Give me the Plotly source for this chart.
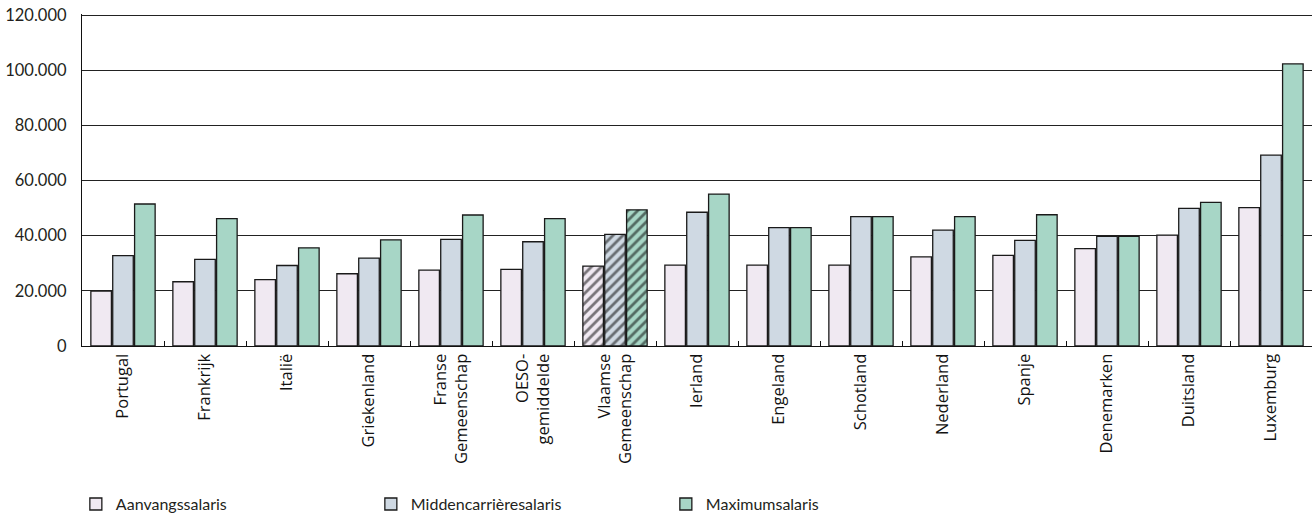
import plotly.graph_objects as go

categories = ["Portugal", "Frankrijk", "Italië", "Griekenland", "Franse<br>Gemeenschap",
              "OESO-<br>gemiddelde", "Vlaamse<br>Gemeenschap", "Ierland", "Engeland",
              "Schotland", "Nederland", "Spanje", "Denemarken", "Duitsland", "Luxemburg"]

aanvang = [19900, 23300, 24100, 26200, 27500, 27800, 29000, 29300, 29300, 29300,
           32300, 32900, 35300, 40200, 50200]
midden = [32800, 31400, 29200, 31900, 38700, 37800, 40500, 48500, 42900, 46900,
          42000, 38300, 39800, 49900, 69200]
maximum = [51500, 46200, 35600, 38500, 47500, 46200, 49400, 55100, 42900, 46900,
           46900, 47600, 39800, 52100, 102300]

series_names = ["Aanvangssalaris", "Middencarrièresalaris", "Maximumsalaris"]
colors = ["#F0E9F2", "#CFD9E3", "#A7D6C6"]
hatched_category = "Vlaamse<br>Gemeenschap"

y_ticks = [0, 20000, 40000, 60000, 80000, 100000, 120000]
y_ticktext = ["0", "20.000", "40.000", "60.000", "80.000", "100.000", "120.000"]

fig = go.Figure()
shapes = ["/" if c == hatched_category else "" for c in categories]
for name, vals, col in zip(series_names, [aanvang, midden, maximum], colors):
    fig.add_trace(go.Bar(
        x=categories, y=vals, name=name,
        marker=dict(color=col, line=dict(color="#1a1a1a", width=1.3),
                    pattern=dict(shape=shapes, fgcolor="#000000", bgcolor=col,
                                 size=7, solidity=0.4, fillmode="overlay")),
    ))

fig.update_layout(
    barmode="group", bargap=0.2, bargroupgap=0.06,
    width=1315, height=520,
    margin=dict(l=82, r=3, t=14, b=174, autoexpand=False),
    plot_bgcolor="white", paper_bgcolor="white",
    font=dict(family="Lato", color="#231F20", size=16),
    legend=dict(orientation="h", x=-0.005, xanchor="left", y=-0.425, yanchor="top",
                font=dict(family="Lato", size=16, color="#231F20"),
                entrywidth=250, entrywidthmode="pixels",
                itemwidth=30, traceorder="normal"),
    showlegend=True,
)
fig.update_xaxes(
    type="category", showline=True, linecolor="#111111", linewidth=1.3,
    ticks="inside", ticklen=5, tickcolor="#111111", tickson="boundaries",
    tickangle=-90, tickfont=dict(family="Open Sans", size=16.5, color="#111111"),
    showgrid=False, automargin=False,
)
fig.update_yaxes(
    range=[0, 120400], tickvals=y_ticks, ticktext=y_ticktext,
    showgrid=True, gridcolor="#222222", gridwidth=1.2,
    showline=True, linecolor="#111111", linewidth=1.3,
    zeroline=True, zerolinecolor="#111111", zerolinewidth=1.3,
    ticks="", ticklabelstandoff=11, automargin=False, ticklabeloverflow="allow",
    tickfont=dict(family="Lato", size=16.5, color="#231F20"),
)

# remove the default 8px page margin so the figure fills the 1315x520 window
fig.write_html("out.html", config={"displayModeBar": False},
               post_script="document.body.style.margin='0';")
